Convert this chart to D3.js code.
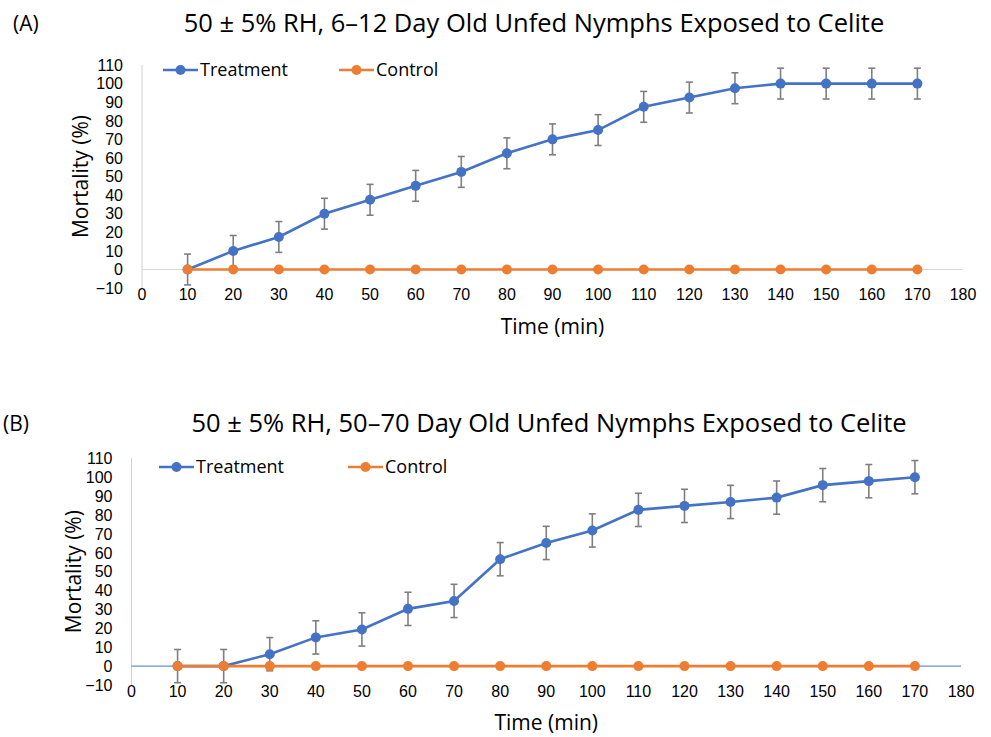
<!DOCTYPE html>
<meta charset="utf-8">
<style>
  body { margin: 0; background: #fff; }
  svg { font-family: "Open Sans", "Liberation Sans", sans-serif; }
  .tick { font-family: "Liberation Sans", Arial, sans-serif; }
</style>
<svg width="991" height="737"></svg>
<script src="https://d3js.org/d3.v7.min.js"></script>
<script>
// time points (min)
const times = [10, 20, 30, 40, 50, 60, 70, 80, 90, 100, 110, 120, 130, 140, 150, 160, 170];

// panel A: 6-12 day old nymphs
const treatA = [0, 10, 17.5, 30, 37.5, 45, 52.5, 62.5, 70, 75, 87.5, 92.5, 97.5, 100, 100, 100, 100];
const controlA = [0, 0, 0, 0, 0, 0, 0, 0, 0, 0, 0, 0, 0, 0, 0, 0, 0];
const errA = [8.3, 8.3, 8.3, 8.3, 8.3, 8.3, 8.3, 8.3, 8.3, 8.3, 8.3, 8.3, 8.3, 8.3, 8.3, 8.3, 8.3];

// panel B: 50-70 day old nymphs
const treatB = [0, 0, 6.3, 15.2, 19.4, 30.3, 34.5, 56.6, 65.2, 71.8, 82.7, 84.8, 86.9, 89.2, 95.8, 97.9, 100];
const controlB = [0, 0, 0, 0, 0, 0, 0, 0, 0, 0, 0, 0, 0, 0, 0, 0, 0];
const errB = [8.8, 8.8, 8.8, 8.8, 8.8, 8.8, 8.8, 8.8, 8.8, 8.8, 8.8, 8.8, 8.8, 8.8, 8.8, 8.8, 8.8];

const xTicks = d3.range(0, 181, 10);
const yTicks = d3.range(-10, 111, 10);

const blue = "#4472c4";
const orange = "#ed7d31";

const svg = d3.select("svg");

function panel(opt) {
  const x = d3.scaleLinear([0, 180], opt.xr);
  const y = d3.scaleLinear([-10, 110], opt.yr);
  const g = svg.append("g");

  g.append("text")
      .attr("x", opt.tagX).attr("y", opt.titleY - 1)
      .attr("font-size", 21)
      .text(opt.tag);

  g.append("text")
      .attr("x", opt.titleX).attr("y", opt.titleY)
      .attr("text-anchor", "middle")
      .attr("font-size", 25.5)
      .text(opt.title);

  // axes lines
  g.append("line")
      .attr("x1", x(0)).attr("x2", x(0))
      .attr("y1", y(110)).attr("y2", y(-10))
      .attr("stroke", "#d0d0d0");
  g.append("line")
      .attr("x1", x(0)).attr("x2", x(180))
      .attr("y1", y(0)).attr("y2", y(0))
      .attr("stroke", opt.zeroColor);

  // tick labels
  g.append("g")
      .attr("class", "tick")
      .attr("font-size", 16)
      .attr("text-anchor", "end")
    .selectAll("text")
    .data(yTicks)
    .join("text")
      .attr("x", x(0) - 19)
      .attr("y", d => y(d))
      .attr("dy", "0.36em")
      .text(d => d < 0 ? "\u2212" + Math.abs(d) : d);

  g.append("g")
      .attr("class", "tick")
      .attr("font-size", 16)
      .attr("text-anchor", "middle")
    .selectAll("text")
    .data(xTicks)
    .join("text")
      .attr("x", d => x(d))
      .attr("y", opt.xLabY)
      .text(d => d);

  g.append("text")
      .attr("transform", `translate(${opt.yTitleX},${(y(110) + y(-10)) / 2}) rotate(-90)`)
      .attr("text-anchor", "middle")
      .attr("font-size", 21)
      .text("Mortality (%)");

  g.append("text")
      .attr("x", (x(0) + x(180)) / 2)
      .attr("y", opt.xTitleY)
      .attr("text-anchor", "middle")
      .attr("font-size", 21)
      .text("Time (min)");

  const series = [
    {name: "Treatment", values: opt.treat, err: opt.err, color: blue},
    {name: "Control", values: opt.control, err: null, color: orange}
  ];

  // error bars
  const eb = g.append("g")
      .attr("stroke", "#7f7f7f")
      .attr("stroke-width", 1.6)
    .selectAll("g")
    .data(times.map((t, i) => ({t, v: opt.treat[i], e: opt.err[i]})))
    .join("g");
  eb.append("line")
      .attr("x1", d => x(d.t)).attr("x2", d => x(d.t))
      .attr("y1", d => y(d.v + d.e)).attr("y2", d => y(d.v - d.e));
  eb.append("line")
      .attr("x1", d => x(d.t) - 3.5).attr("x2", d => x(d.t) + 3.5)
      .attr("y1", d => y(d.v + d.e)).attr("y2", d => y(d.v + d.e));
  eb.append("line")
      .attr("x1", d => x(d.t) - 3.5).attr("x2", d => x(d.t) + 3.5)
      .attr("y1", d => y(d.v - d.e)).attr("y2", d => y(d.v - d.e));

  const line = d3.line()
      .x((d, i) => x(times[i]))
      .y(d => y(d));

  series.forEach(s => {
    g.append("path")
        .datum(s.values)
        .attr("fill", "none")
        .attr("stroke", s.color)
        .attr("stroke-width", 2.6)
        .attr("d", line);
    g.append("g")
        .attr("fill", s.color)
      .selectAll("circle")
      .data(s.values)
      .join("circle")
        .attr("cx", (d, i) => x(times[i]))
        .attr("cy", d => y(d))
        .attr("r", 5);
  });

  // legend
  const leg = g.append("g")
      .attr("font-size", 18)
    .selectAll("g")
    .data(series)
    .join("g")
      .attr("transform", (d, i) => `translate(${opt.legX[i]},${opt.legY})`);
  leg.append("line")
      .attr("x1", 0).attr("x2", 35)
      .attr("stroke", d => d.color)
      .attr("stroke-width", 2.6);
  leg.append("circle")
      .attr("cx", 17.5)
      .attr("r", 5)
      .attr("fill", d => d.color);
  leg.append("text")
      .attr("x", 37)
      .attr("dy", "0.36em")
      .text(d => d.name);
}

panel({
  tag: "(A)", tagX: 13,
  title: "50 \u00b1 5% RH, 6\u201312 Day Old Unfed Nymphs Exposed to Celite",
  titleX: 534, titleY: 32,
  xr: [142, 963], yr: [288.1, 65],
  zeroColor: "#d9d9d9",
  xLabY: 300, yTitleX: 88, xTitleY: 334,
  legX: [163, 339], legY: 70,
  treat: treatA, control: controlA, err: errA
});

panel({
  tag: "(B)", tagX: 3,
  title: "50 \u00b1 5% RH, 50\u201370 Day Old Unfed Nymphs Exposed to Celite",
  titleX: 549, titleY: 432,
  xr: [131.5, 961], yr: [685, 458.3],
  zeroColor: blue,
  xLabY: 697, yTitleX: 81, xTitleY: 730,
  legX: [159, 348], legY: 467,
  treat: treatB, control: controlB, err: errB
});
</script>
